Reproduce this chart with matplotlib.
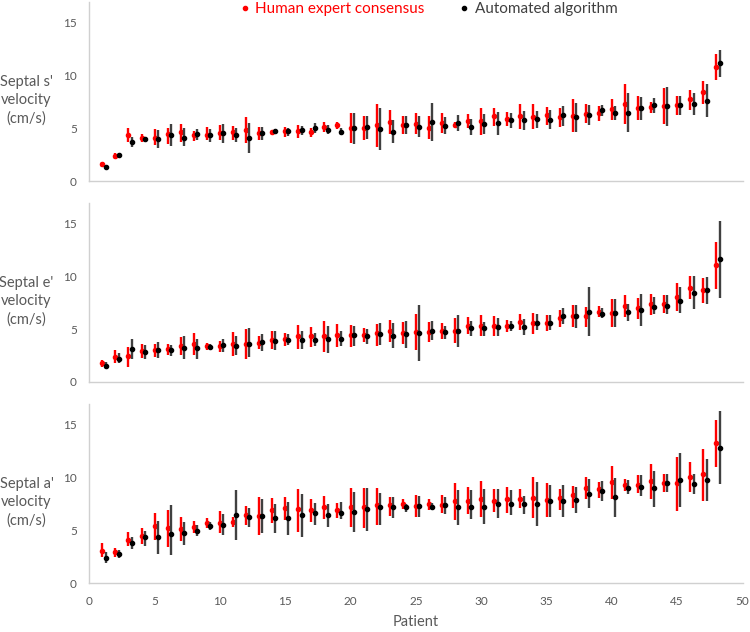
import matplotlib
matplotlib.use('Agg')
import matplotlib.pyplot as plt
from matplotlib.lines import Line2D
import numpy as np

plt.rcParams['font.family'] = ['Lato', 'DejaVu Sans']

patients = np.arange(1, 49)

# Septal s' velocity (cm/s)
s_human = [1.6, 2.4, 4.35, 4.1, 4.1, 4.4, 4.6, 4.35,
           4.35, 4.5, 4.6, 4.8, 4.5, 4.6, 4.7, 4.75,
           4.65, 5.1, 5.3, 5.0, 5.0, 5.3, 5.6, 5.3,
           5.4, 5.0, 5.5, 5.3, 5.7, 5.65, 6.1, 5.85,
           6.1, 6.07, 6.2, 6.07, 6.13, 6.3, 6.45, 6.8,
           7.3, 6.9, 7.0, 7.05, 7.15, 7.7, 8.4, 10.8]
s_human_lo = [1.35, 2.1, 3.7, 3.7, 3.4, 3.5, 3.7, 3.8,
              3.9, 3.9, 3.9, 3.6, 3.9, 4.35, 4.2, 4.1,
              4.2, 4.65, 4.9, 3.6, 3.9, 3.2, 4.4, 4.4,
              4.4, 4.0, 4.5, 5.05, 5.05, 4.35, 5.2, 5.2,
              4.9, 4.9, 5.3, 5.1, 4.6, 5.45, 5.7, 5.8,
              5.4, 5.8, 6.45, 5.4, 6.2, 6.75, 7.3, 9.5]
s_human_hi = [1.8, 2.6, 5.0, 4.4, 4.9, 5.0, 5.35, 4.75,
              5.1, 5.3, 5.2, 6.0, 5.1, 4.8, 5.1, 5.3,
              5.0, 5.6, 5.6, 6.4, 6.1, 7.3, 6.7, 6.1,
              6.4, 6.1, 6.45, 5.6, 6.3, 6.9, 6.85, 6.5,
              7.3, 7.3, 7.0, 6.85, 7.7, 7.25, 7.1, 7.7,
              9.2, 8.0, 7.5, 8.75, 8.0, 8.6, 9.4, 11.95]
s_auto = [1.3, 2.45, 3.7, 4.0, 3.95, 4.35, 4.1, 4.4,
          4.3, 4.5, 4.35, 4.1, 4.5, 4.7, 4.7, 4.8,
          5.0, 4.8, 4.65, 5.0, 5.1, 4.9, 4.65, 5.3,
          5.1, 5.6, 5.2, 5.5, 5.1, 5.4, 5.45, 5.75,
          5.75, 5.85, 5.8, 6.2, 6.0, 6.25, 6.7, 6.45,
          6.45, 6.9, 7.2, 7.05, 7.15, 7.3, 7.6, 11.1]
s_auto_lo = [1.2, 2.2, 3.2, 3.7, 3.1, 3.3, 3.3, 3.9,
             3.65, 3.55, 3.7, 2.6, 3.9, 4.4, 4.25, 4.3,
             4.5, 4.4, 4.35, 3.5, 4.0, 2.9, 3.55, 4.4,
             4.2, 3.8, 4.4, 4.75, 4.35, 4.4, 4.35, 5.05,
             4.8, 5.05, 4.9, 5.2, 4.65, 5.3, 6.1, 5.8,
             4.65, 5.8, 6.45, 5.2, 6.2, 6.2, 6.0, 9.8]
s_auto_hi = [1.4, 2.6, 4.2, 4.2, 4.8, 5.35, 5.0, 4.9,
             4.9, 5.35, 5.0, 5.5, 5.1, 4.85, 5.0, 5.2,
             5.45, 5.3, 5.0, 6.4, 6.1, 6.9, 5.75, 6.1,
             6.1, 7.4, 6.0, 6.2, 5.9, 6.3, 6.5, 6.45,
             6.6, 6.6, 6.75, 7.1, 7.4, 7.15, 7.15, 7.1,
             8.3, 7.9, 7.8, 8.9, 8.0, 8.3, 9.15, 12.4]

# Septal e' velocity (cm/s)
e_human = [1.76, 2.4, 2.45, 2.9, 3.0, 3.1, 3.4, 3.6,
           3.4, 3.4, 3.55, 3.6, 3.7, 3.95, 4.05, 4.3,
           4.3, 4.35, 4.45, 4.4, 4.45, 4.6, 4.85, 4.65,
           4.7, 4.75, 4.85, 4.85, 5.3, 5.3, 5.3, 5.3,
           5.7, 5.55, 5.55, 6.0, 6.25, 6.2, 6.6, 6.55,
           7.2, 6.95, 7.35, 7.35, 8.05, 8.85, 8.7, 11.0]
e_human_lo = [1.45, 1.8, 1.45, 2.3, 2.4, 2.55, 2.55, 2.55,
              3.0, 2.85, 2.45, 2.2, 3.1, 3.1, 3.4, 3.1,
              3.35, 2.85, 3.35, 3.3, 3.8, 3.4, 3.8, 3.6,
              3.0, 3.8, 4.1, 3.65, 4.5, 4.35, 4.35, 4.75,
              4.95, 4.5, 4.85, 5.15, 5.15, 5.15, 6.1, 5.2,
              6.15, 5.9, 6.3, 6.55, 6.7, 7.8, 7.5, 8.75]
e_human_hi = [2.1, 3.0, 3.3, 3.55, 3.6, 3.55, 4.2, 4.6,
              3.7, 3.85, 4.7, 5.0, 4.3, 4.8, 4.65, 5.4,
              5.15, 5.75, 5.45, 5.4, 5.05, 5.45, 5.85, 5.7,
              6.4, 5.7, 5.6, 6.0, 6.1, 6.3, 6.2, 5.85,
              6.4, 6.5, 6.3, 6.8, 7.25, 7.1, 7.2, 7.8,
              8.2, 7.95, 8.3, 8.25, 9.35, 10.0, 9.85, 13.25]
e_auto = [1.5, 2.2, 3.1, 2.85, 3.0, 3.0, 3.25, 3.2,
          3.3, 3.5, 3.4, 3.6, 3.75, 3.9, 4.0, 3.95,
          4.0, 4.05, 4.1, 4.4, 4.3, 4.5, 4.3, 4.55,
          4.65, 4.85, 4.7, 4.85, 5.05, 5.05, 5.2, 5.3,
          5.2, 5.6, 5.6, 6.25, 6.25, 6.65, 6.4, 6.5,
          6.6, 6.8, 7.1, 7.2, 7.65, 8.4, 8.7, 11.6]
e_auto_lo = [1.2, 1.75, 2.15, 2.2, 2.3, 2.5, 2.2, 2.15,
             3.1, 2.8, 2.55, 2.4, 2.9, 3.05, 3.5, 3.1,
             3.4, 2.7, 3.4, 3.4, 3.6, 3.45, 3.2, 3.2,
             2.0, 4.0, 4.1, 3.35, 4.3, 4.35, 4.35, 4.85,
             4.4, 4.9, 4.9, 5.5, 5.1, 4.3, 6.0, 5.2,
             5.8, 5.3, 6.4, 6.45, 6.55, 6.85, 7.4, 7.9]
e_auto_hi = [1.9, 2.7, 4.05, 3.5, 3.75, 3.5, 4.3, 4.1,
             3.6, 4.1, 4.3, 5.05, 4.5, 4.8, 4.5, 4.85,
             4.65, 5.3, 4.8, 5.3, 5.0, 5.55, 5.55, 5.75,
             7.25, 5.75, 5.3, 6.3, 5.75, 5.65, 6.0, 5.75,
             5.9, 6.45, 6.3, 6.95, 7.3, 9.0, 7.0, 7.8,
             7.35, 8.3, 8.0, 8.2, 9.0, 10.0, 9.9, 15.2]

# Septal a' velocity (cm/s)
a_human = [3.05, 2.9, 4.1, 4.45, 5.4, 5.15, 5.1, 5.3,
           5.7, 5.7, 5.8, 6.4, 6.35, 6.9, 7.05, 6.95,
           6.9, 7.15, 6.9, 7.15, 7.15, 7.35, 7.4, 7.45,
           7.3, 7.45, 7.4, 7.7, 7.75, 7.9, 7.75, 7.9,
           7.9, 8.05, 7.85, 8.0, 8.3, 9.0, 8.85, 9.55,
           9.25, 9.25, 9.6, 9.45, 9.4, 10.0, 10.3, 13.25]
a_human_lo = [2.5, 2.5, 3.45, 3.65, 4.1, 3.4, 4.0, 4.75,
              5.2, 4.7, 5.25, 5.5, 4.5, 5.7, 5.95, 4.85,
              5.75, 6.05, 6.1, 5.25, 5.2, 5.5, 6.3, 7.0,
              6.25, 6.9, 6.6, 5.95, 6.5, 6.25, 6.7, 6.65,
              7.05, 6.1, 6.25, 6.9, 7.1, 7.9, 8.0, 7.9,
              8.7, 8.5, 7.9, 8.6, 6.8, 8.6, 7.75, 11.0]
a_human_hi = [3.75, 3.3, 4.8, 5.2, 6.6, 6.9, 6.2, 5.9,
              6.15, 6.8, 6.25, 7.25, 8.15, 8.0, 8.15, 8.85,
              7.9, 8.2, 7.6, 8.95, 9.0, 8.95, 8.15, 7.9,
              8.3, 7.95, 8.3, 9.4, 9.1, 9.6, 8.85, 9.1,
              8.85, 10.0, 9.4, 8.85, 9.2, 10.0, 9.5, 11.05,
              9.8, 10.2, 11.2, 10.3, 11.9, 11.4, 12.7, 15.4]
a_auto = [2.4, 2.7, 3.75, 4.3, 4.3, 4.6, 4.7, 4.9,
          5.4, 5.5, 6.4, 6.25, 6.35, 6.1, 6.1, 6.4,
          6.6, 6.4, 6.65, 6.7, 6.95, 7.15, 7.15, 7.15,
          7.3, 7.15, 7.35, 7.15, 7.15, 7.2, 7.5, 7.5,
          7.5, 7.5, 7.75, 7.75, 7.85, 8.45, 8.7, 8.1,
          9.0, 9.1, 9.0, 9.4, 9.7, 9.35, 9.7, 12.75]
a_auto_lo = [1.85, 2.4, 3.2, 3.5, 2.7, 2.6, 3.6, 4.4,
             5.0, 4.5, 4.1, 5.3, 4.75, 4.7, 4.5, 4.35,
             5.5, 5.25, 6.0, 4.85, 4.9, 5.5, 6.1, 6.75,
             6.2, 6.9, 6.5, 5.45, 6.0, 5.6, 6.1, 6.4,
             6.55, 5.4, 6.2, 6.2, 6.6, 7.1, 7.7, 6.2,
             8.4, 8.2, 7.2, 8.6, 7.15, 8.4, 7.75, 9.35]
a_auto_hi = [2.95, 3.15, 4.35, 4.9, 5.9, 7.35, 5.8, 5.5,
             5.8, 6.5, 8.8, 7.1, 7.9, 7.5, 7.65, 8.45,
             7.6, 7.45, 7.65, 8.6, 9.0, 8.5, 8.1, 7.5,
             8.25, 7.55, 8.15, 8.8, 8.75, 8.85, 8.9, 8.8,
             8.25, 9.55, 9.25, 9.3, 9.05, 9.8, 9.6, 9.9,
             9.7, 10.2, 10.6, 10.25, 12.3, 10.3, 11.7, 16.2]

panels = [
    ("Septal s'\nvelocity\n(cm/s)", s_human, s_human_lo, s_human_hi, s_auto, s_auto_lo, s_auto_hi),
    ("Septal e'\nvelocity\n(cm/s)", e_human, e_human_lo, e_human_hi, e_auto, e_auto_lo, e_auto_hi),
    ("Septal a'\nvelocity\n(cm/s)", a_human, a_human_lo, a_human_hi, a_auto, a_auto_lo, a_auto_hi),
]

RED = '#ff0000'
DARK = '#404040'
AXIS = '#d0d0d0'
TICK = '#595959'

fig = plt.figure(figsize=(7.5, 6.32), dpi=100)
bottoms = [0.7136, 0.3956, 0.0775]

for k, (label, hm, hlo, hhi, am, alo, ahi) in enumerate(panels):
    ax = fig.add_axes([0.119, bottoms[k], 0.871, 0.2832])
    hm, hlo, hhi = np.array(hm), np.array(hlo), np.array(hhi)
    am, alo, ahi = np.array(am), np.array(alo), np.array(ahi)
    h_err = np.clip([hm - hlo, hhi - hm], 0, None)
    a_err = np.clip([am - alo, ahi - am], 0, None)
    ax.errorbar(patients, hm, yerr=h_err, fmt='o', color=RED, ms=3.0,
                elinewidth=1.7, capsize=0, zorder=3)
    ax.errorbar(patients + 0.25, am, yerr=a_err, fmt='o', color='black',
                ecolor=DARK, ms=3.0, elinewidth=1.7, capsize=0, zorder=4)

    ax.set_xlim(0, 50)
    ax.set_ylim(0, 16.9)
    ax.set_yticks([0, 5, 10, 15])
    ax.set_xticks(range(0, 51, 5))
    for s in ['top', 'right']:
        ax.spines[s].set_visible(False)
    for s in ['left', 'bottom']:
        ax.spines[s].set_color(AXIS)
        ax.spines[s].set_linewidth(1.0)
    ax.tick_params(length=0, labelsize=8.5, colors=TICK, pad=9)
    if k < 2:
        ax.tick_params(labelbottom=False)
    ax.set_ylabel(label, rotation=0, fontsize=10.5, color=TICK,
                  ha='center', va='center', linespacing=1.35)
    ax.yaxis.set_label_coords(-0.096, 0.45)

ax.set_xlabel('Patient', fontsize=10.5, color=TICK, labelpad=6)

handles = [Line2D([], [], marker='o', ls='', color=RED, ms=3.0),
           Line2D([], [], marker='o', ls='', color='black', ms=3.0)]
fig.legend(handles, ['Human expert consensus', 'Automated algorithm'],
           loc='center', bbox_to_anchor=(0.573, 0.986), ncol=2,
           frameon=False, fontsize=11, handlelength=0.4,
           handletextpad=0.5, columnspacing=2.4, labelcolor=[RED, DARK])

fig.savefig('out.png', dpi=100)
